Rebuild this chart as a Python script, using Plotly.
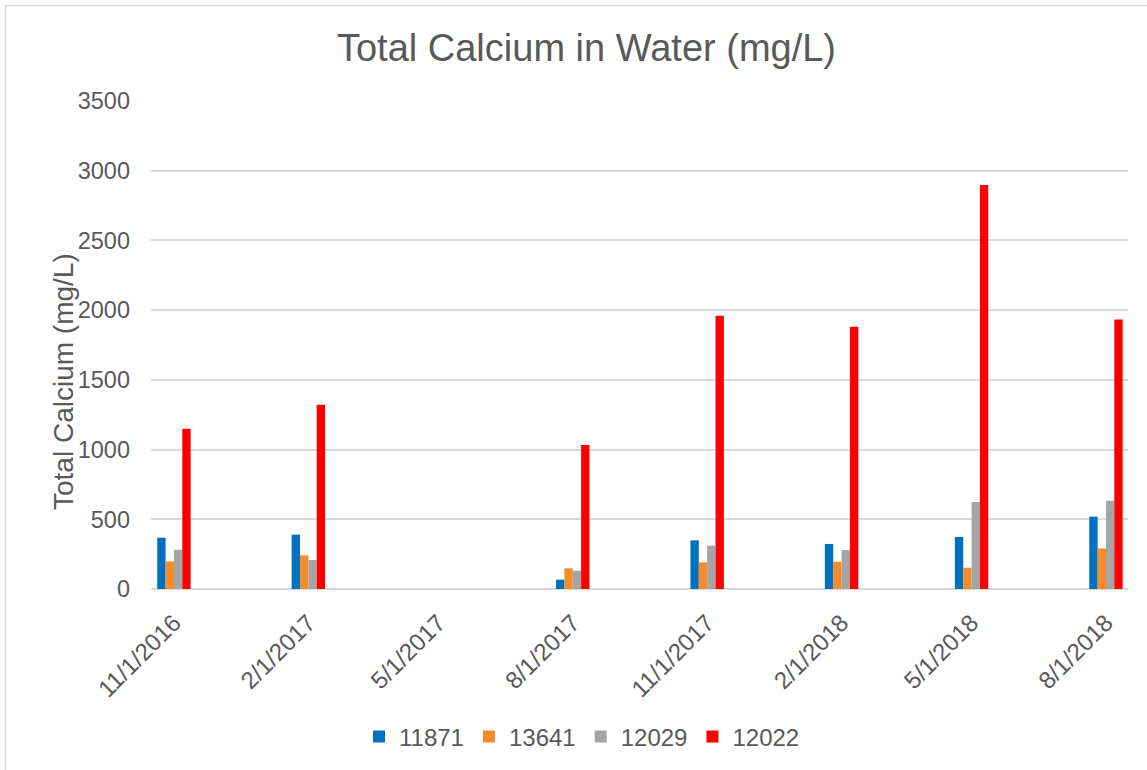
import plotly.graph_objects as go

dates = ["2016-11-01", "2017-02-01", "2017-05-01", "2017-08-01",
         "2017-11-01", "2018-02-01", "2018-05-01", "2018-08-01"]
date_labels = ["11/1/2016", "2/1/2017", "5/1/2017", "8/1/2017",
               "11/1/2017", "2/1/2018", "5/1/2018", "8/1/2018"]

s11871 = [368, 390, None, 67, 349, 323, 373, 519]
s13641 = [198, 241, None, 148, 191, 196, 153, 291]
s12029 = [282, 208, None, 131, 311, 280, 624, 633]
s12022 = [1150, 1322, None, 1033, 1960, 1881, 2898, 1932]

series = [("11871", s11871, "#0070C0"),
          ("13641", s13641, "#F68B27"),
          ("12029", s12029, "#A5A5A5"),
          ("12022", s12022, "#FF0000")]

FONT = "Liberation Sans, Arial, sans-serif"
TXT = "#595959"

DAY_MS = 86400000
bar_w = 5.72 * DAY_MS

fig = go.Figure()
for i, (name, vals, col) in enumerate(series):
    fig.add_trace(go.Bar(
        x=dates, y=vals, name=name,
        marker=dict(color=col, line=dict(width=0)),
        width=bar_w, offset=(i - 2) * bar_w,
    ))

fig.update_layout(
    width=1147, height=770,
    barmode="overlay",
    paper_bgcolor="white", plot_bgcolor="white",
    margin=dict(l=151, r=19, t=101, b=181, autoexpand=False),
    font=dict(family=FONT, color=TXT, size=24),
    title=dict(text="Total Calcium in Water (mg/L)", x=586.5 / 1147, xref="container",
               xanchor="center", y=1 - 48 / 770, yref="container", yanchor="middle",
               font=dict(size=38, color=TXT, family=FONT)),
    xaxis=dict(type="date", range=["2016-10-16 07:00", "2018-08-16 02:00"],
               tickmode="array", tickvals=dates, ticktext=date_labels,
               tickangle=-45, showgrid=False, showline=False, zeroline=False,
               tickfont=dict(size=24, color=TXT), ticklabelstandoff=14,
               automargin=False),
    yaxis=dict(range=[0, 3500], dtick=500, tick0=0, showgrid=True,
               gridcolor="#D9D9D9", gridwidth=1.5, zeroline=True,
               zerolinecolor="#D9D9D9", zerolinewidth=1.5, showline=False,
               tickfont=dict(size=23.5, color=TXT), ticklabelstandoff=20,
               automargin=False),
    legend=dict(orientation="h", x=(582 - 151) / 977, xanchor="center",
                y=(589 - 737) / 488, yanchor="middle",
                font=dict(size=24, color=TXT), itemwidth=30, traceorder="normal"),
    showlegend=True,
    annotations=[dict(text="Total Calcium (mg/L)", textangle=-90,
                      x=(63 - 151) / 977, xref="paper", xanchor="center",
                      y=(589 - 382) / 488, yref="paper", yanchor="middle",
                      showarrow=False, font=dict(size=28, color=TXT, family=FONT))],
    shapes=[dict(type="rect", xref="paper", yref="paper",
                 x0=(5.5 - 151) / 977, x1=(1180 - 151) / 977,
                 y0=(589 - 800) / 488, y1=(589 - 5.5) / 488,
                 line=dict(color="#D9D9D9", width=1.5), layer="below")],
)

fig.write_html("out.html", config={"displayModeBar": False},
               post_script="document.body.style.margin='0px';document.body.style.overflow='hidden';")
